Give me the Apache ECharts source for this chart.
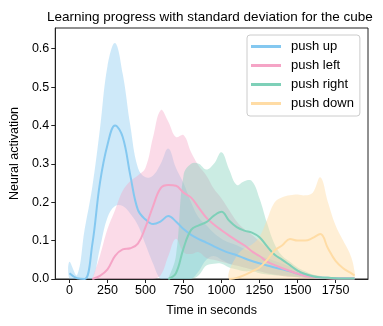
<!DOCTYPE html>
<html><head><meta charset="utf-8">
<script src="https://cdn.jsdelivr.net/npm/echarts@6/dist/echarts.min.js"></script>
<style>html,body{margin:0;padding:0;background:#fff}#c{width:383px;height:326px}</style>
</head><body><div id="c"></div>
<script>
const times=[0,50,100,150,200,250,300,350,400,450,500,550,600,650,700,750,800,850,900,950,1000,1050,1100,1150,1200,1250,1300,1350,1400,1450,1500,1550,1600,1650,1700,1750,1800,1850,1875];
const xTicks=[0,250,500,750,1000,1250,1500,1750];
const seriesNames=['push up','push left','push right','push down'];

const upMean=[.015,.002,0,.09,.25,.35,.40,.37,.27,.18,.155,.143,.15,.164,.15,.13,.115,.104,.095,.085,.076,.068,.062,.054,.047,.041,.035,.030,.025,.020,.014,.009,.006,.004,.003,.002,.002,.002,.002];
const upUpper=[.045,.01,.13,.24,.39,.555,.615,.535,.40,.29,.265,.27,.30,.34,.29,.25,.20,.16,.14,.12,.105,.095,.088,.078,.069,.061,.054,.047,.04,.032,.024,.016,.011,.008,.006,.005,.004,.004,.004];
const upLower=[0,0,0,0,.08,.16,.19,.19,.17,.14,.09,.04,0,0,0,0,0,.02,.05,.06,.05,.04,.035,.03,.025,.02,.015,.012,.01,.008,.005,.003,.002,.001,.001,.001,0,0,0];

const leftMean=[null,null,null,0,.008,.025,.06,.077,.08,.092,.135,.19,.237,.245,.243,.225,.212,.186,.16,.142,.127,.113,.10,.088,.072,.06,.045,.036,.028,.021,.014,.008,.005,.003,.002,.001,.001,.001,.001];
const leftUpper=[null,null,null,0,.06,.13,.18,.23,.255,.27,.29,.37,.44,.41,.37,.375,.33,.295,.27,.235,.21,.18,.15,.13,.115,.098,.082,.065,.05,.038,.025,.015,.01,.006,.004,.003,.002,.002,.002];
const leftLower=[null,null,null,0,0,0,0,0,0,0,0,0,.01,.06,.105,.07,.065,.07,.055,.05,.045,.04,.035,.03,.025,.02,.015,.012,.008,.005,.004,.002,.001,.001,0,0,0,0,0];

const rightMean=[null,null,null,null,null,null,null,null,null,null,null,null,null,0,.015,.08,.128,.14,.148,.165,.175,.152,.135,.126,.121,.109,.085,.063,.05,.036,.022,.013,.007,.004,.003,.002,.001,.001,.001];
const rightUpper=[null,null,null,null,null,null,null,null,null,null,null,null,null,0,.06,.27,.30,.30,.285,.30,.33,.285,.245,.255,.255,.21,.145,.09,.06,.045,.03,.02,.012,.008,.005,.004,.003,.002,.002];
const rightLower=[null,null,null,null,null,null,null,null,null,null,null,null,null,0,0,0,0,.01,.035,.04,.04,.03,.025,.02,.02,.015,.012,.01,.008,.006,.005,.003,.002,.001,.001,0,0,0,0];

const downMean=[null,null,null,null,null,null,null,null,null,null,null,null,null,null,null,null,null,null,null,null,null,0,.003,.01,.02,.03,.05,.075,.088,.104,.10,.10,.107,.117,.08,.047,.028,.016,.009];
const downUpper=[null,null,null,null,null,null,null,null,null,null,null,null,null,null,null,null,null,null,null,null,null,.02,.06,.08,.09,.11,.155,.20,.213,.218,.22,.218,.225,.265,.20,.14,.10,.06,.02];
const downLower=[null,null,null,null,null,null,null,null,null,null,null,null,null,null,null,null,null,null,null,null,null,0,0,0,0,0,0,0,0,0,0,0,0,0,0,0,0,0,0];

const means=[upMean,leftMean,rightMean,downMean];
const uppers=[upUpper,leftUpper,rightUpper,downUpper];
const lowers=[upLower,leftLower,rightLower,downLower];
const lineColors=['#84c8f0','#f5a4c6','#7ed0b8','#ffdca5'];
const bandColors=['rgba(132,200,240,0.4)','rgba(245,164,198,0.4)','rgba(126,208,184,0.4)','rgba(255,220,165,0.45)'];

function pairs(a){return times.map((t,i)=>[t,a[i]==null?'-':a[i]]);}

const SM=0.4;
function bandSeries(k){
  return {type:'custom',name:'band'+k,coordinateSystem:'cartesian2d',silent:true,z:1,
    data:[[times[0],0]],encode:{x:0,y:1},clip:true,
    renderItem:function(params,api){
      const up=[],lo=[];
      for(let i=0;i<times.length;i++){
        if(uppers[k][i]==null) continue;
        up.push(api.coord([times[i],uppers[k][i]]));
        lo.push(api.coord([times[i],lowers[k][i]]));
      }
      const pts=up.concat(lo.reverse());
      return {type:'polygon',shape:{points:pts,smooth:SM},style:{fill:bandColors[k]},silent:true};
    }};
}
const series=[];
for(let k=0;k<4;k++) series.push(bandSeries(k));
for(let k=0;k<4;k++){
  series.push({type:'line',name:seriesNames[k],data:pairs(means[k]),symbol:'none',smooth:SM,
    lineStyle:{color:lineColors[k],width:2},itemStyle:{color:lineColors[k]},z:3});
}
const FF='"Liberation Sans", Arial, sans-serif';
const chart=echarts.init(document.getElementById('c'),null,{renderer:'canvas'});
chart.setOption({
  animation:false,
  backgroundColor:'#fff',
  title:{text:'Learning progress with standard deviation for the cube',left:42,top:5,
    textStyle:{fontFamily:FF,fontSize:13.5,fontWeight:'normal',color:'#000'}},
  grid:{left:52,right:15,top:28,bottom:47,show:true,borderColor:'#222',borderWidth:1,backgroundColor:'transparent'},
  legend:{data:seriesNames,orient:'vertical',left:247,top:35,icon:'rect',itemWidth:30,itemHeight:3,itemGap:6,
    padding:[5,6,6,4],backgroundColor:'rgba(255,255,255,0.8)',borderColor:'#ccc',borderWidth:1,borderRadius:3,
    textStyle:{fontFamily:FF,fontSize:13,color:'#000',padding:[0,0,0,5]}},
  xAxis:{type:'value',min:-93.5,max:1963.5,name:'Time in seconds',nameLocation:'middle',nameGap:25,
    nameTextStyle:{fontFamily:FF,fontSize:12.5,color:'#000'},
    splitLine:{show:false},axisLine:{show:true,onZero:false,lineStyle:{color:'#222'}},
    axisTick:{show:true,inside:false,length:4,lineStyle:{color:'#222'},customValues:xTicks},
    axisLabel:{fontFamily:FF,fontSize:12.5,color:'#000',margin:5,customValues:xTicks,formatter:v=>String(v)}},
  yAxis:{type:'value',min:0,max:0.654,interval:0.1,name:'Neural activation',nameLocation:'middle',nameGap:31,
    nameTextStyle:{fontFamily:FF,fontSize:12.5,color:'#000'},
    splitLine:{show:false},axisLine:{show:true,onZero:false,lineStyle:{color:'#222'}},
    axisTick:{show:true,inside:false,length:4,lineStyle:{color:'#222'}},
    axisLabel:{fontFamily:FF,fontSize:12.5,color:'#000',margin:6,formatter:v=>v.toFixed(1),showMaxLabel:false}},
  series:series
});
</script></body></html>
